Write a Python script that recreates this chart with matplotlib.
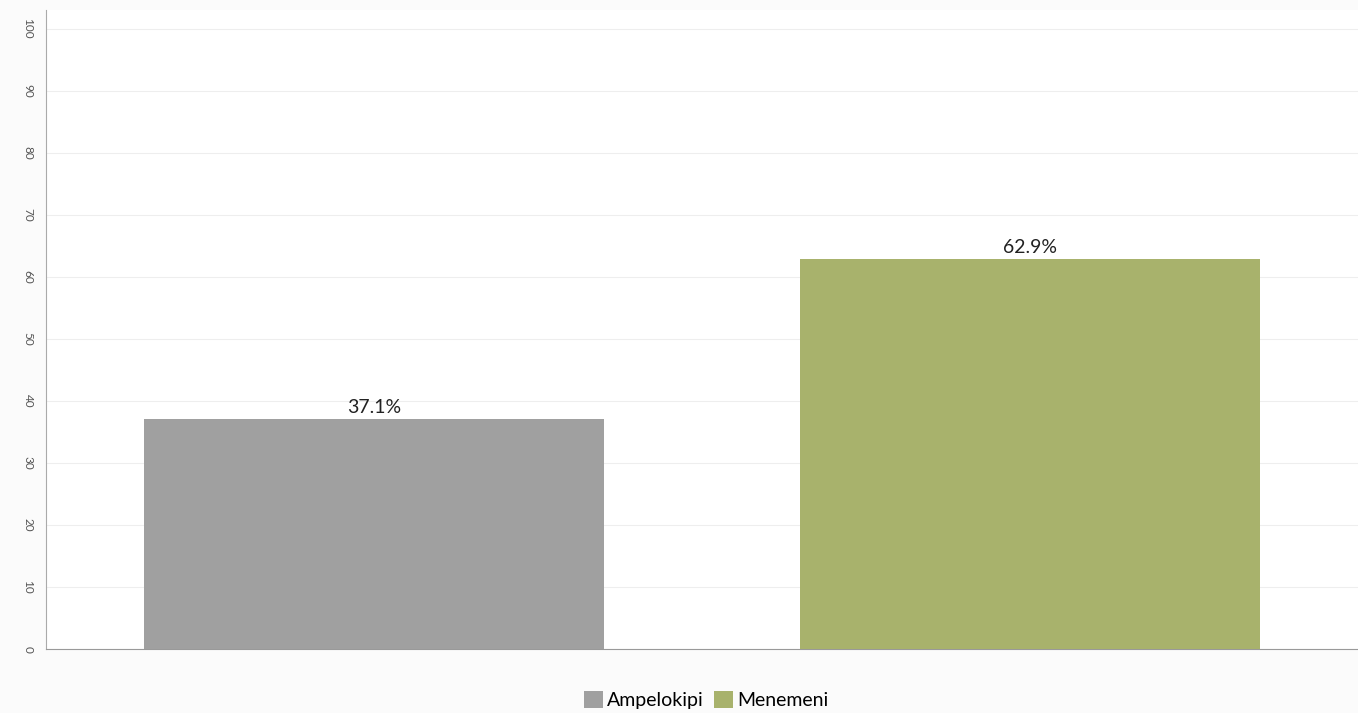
import matplotlib.pyplot as plt
import matplotlib
from matplotlib.patches import Patch

matplotlib.rcParams['font.family'] = ['Lato', 'DejaVu Sans']

# data
categories = ['Ampelokipi', 'Menemeni']
values = [37.1, 62.9]
colors = ['#a0a0a0', '#a8b26c']
yticks = [0, 10, 20, 30, 40, 50, 60, 70, 80, 90, 100]

W, H = 1358, 713
fig = plt.figure(figsize=(W / 100, H / 100), dpi=100)
fig.patch.set_facecolor('#fbfbfb')
ax = fig.add_axes([46 / W, (H - 649) / H, (W - 46) / W, (649 - 10) / H])
ax.set_facecolor('white')

x = range(len(categories))
bars = ax.bar(x, values, width=0.70, color=colors, zorder=3)

for i, v in enumerate(values):
    ax.text(i, v + 0.4, f'{v}%', ha='center', va='bottom', fontsize=14, color='#222222')

ax.set_xlim(-0.5, len(categories) - 0.5)
ax.set_ylim(0, 103)
ax.set_yticks(yticks)
ax.set_yticklabels([str(t) for t in yticks], rotation=-90, va='center', fontsize=8.5, color='#555555')
ax.tick_params(axis='y', length=0, pad=9)
ax.set_xticks([])

ax.grid(axis='y', color='#eeeeee', linewidth=0.8, zorder=0)
ax.set_axisbelow(True)
for s in ['top', 'right']:
    ax.spines[s].set_visible(False)
ax.spines['left'].set_color('#aaaaaa')
ax.spines['bottom'].set_color('#999999')

handles = [Patch(facecolor=c, label=l) for c, l in zip(colors, categories)]
fig.legend(handles=handles, loc='center', bbox_to_anchor=(0.520, 1 - 700 / H), ncol=2,
           frameon=False, fontsize=14, handlelength=1.0, handleheight=1.0,
           handletextpad=0.2, columnspacing=0.5)

plt.savefig('out.png', dpi=100)
